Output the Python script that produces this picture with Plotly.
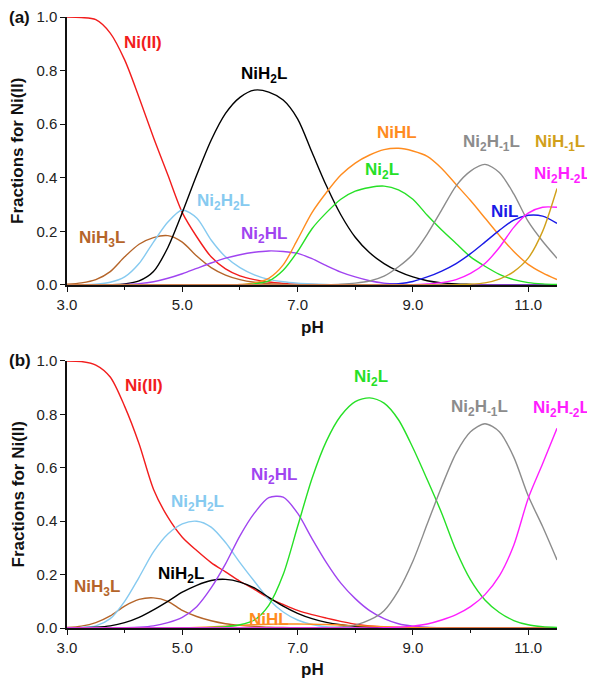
import plotly.graph_objects as go

# pH grid
ph = [3.0, 3.25, 3.5, 3.75, 4.0, 4.25, 4.5, 4.75, 5.0, 5.25, 5.5, 5.75, 6.0, 6.25, 6.5, 6.75,
      7.0, 7.25, 7.5, 7.75, 8.0, 8.25, 8.5, 8.75, 9.0, 9.25, 9.5, 9.75, 10.0, 10.25, 10.5,
      10.75, 11.0, 11.25, 11.5]

# ---- panel (a) ----
ni_a = [1.0, 0.998, 0.99, 0.94, 0.84, 0.70, 0.55, 0.41, 0.27, 0.18, 0.105, 0.06, 0.034, 0.02,
        0.011, 0.006, 0.003, 0.002, 0.001, 0, 0, 0, 0, 0, 0, 0, 0, 0, 0, 0, 0, 0, 0, 0, 0]
nih3l_a = [0.003, 0.008, 0.02, 0.05, 0.105, 0.152, 0.177, 0.184, 0.16, 0.108, 0.065, 0.037,
           0.02, 0.01, 0.005, 0.002, 0.001, 0, 0, 0, 0, 0, 0, 0, 0, 0, 0, 0, 0, 0, 0, 0, 0, 0, 0]
ni2h2l_a = [0, 0.001, 0.003, 0.01, 0.03, 0.08, 0.16, 0.235, 0.28, 0.25, 0.168, 0.105, 0.065,
            0.038, 0.021, 0.012, 0.007, 0.004, 0.002, 0, 0, 0, 0, 0, 0, 0, 0, 0, 0, 0, 0, 0, 0, 0, 0]
nih2l_a = [0, 0, 0, 0.001, 0.004, 0.015, 0.05, 0.14, 0.27, 0.41, 0.54, 0.64, 0.70, 0.727, 0.72,
           0.69, 0.62, 0.495, 0.37, 0.262, 0.178, 0.12, 0.08, 0.051, 0.03, 0.016, 0.008, 0.004,
           0.002, 0, 0, 0, 0, 0, 0]
ni2hl_a = [0, 0, 0, 0, 0.002, 0.005, 0.012, 0.025, 0.042, 0.062, 0.082, 0.1, 0.113, 0.122, 0.127,
           0.125, 0.118, 0.098, 0.072, 0.048, 0.03, 0.016, 0.007, 0.003, 0.001, 0, 0, 0, 0, 0, 0,
           0, 0, 0, 0]
nihl_a = [0, 0, 0, 0, 0, 0, 0, 0, 0, 0, 0, 0, 0.002, 0.008, 0.025, 0.075, 0.17, 0.27, 0.345, 0.41,
          0.455, 0.485, 0.505, 0.51, 0.5, 0.48, 0.435, 0.375, 0.315, 0.25, 0.185, 0.125, 0.077,
          0.045, 0.02]
ni2l_a = [0, 0, 0, 0, 0, 0, 0, 0, 0, 0, 0, 0, 0.001, 0.004, 0.015, 0.055, 0.125, 0.21, 0.27, 0.32,
          0.35, 0.364, 0.369, 0.355, 0.32, 0.26, 0.205, 0.155, 0.105, 0.07, 0.04, 0.02, 0.009,
          0.004, 0.002]
ni2h_1l_a = [0, 0, 0, 0, 0, 0, 0, 0, 0, 0, 0, 0, 0, 0, 0, 0, 0, 0, 0.001, 0.003, 0.007, 0.015,
             0.033, 0.068, 0.115, 0.19, 0.28, 0.37, 0.425, 0.45, 0.42, 0.34, 0.237, 0.163, 0.1]
nil_a = [0, 0, 0, 0, 0, 0, 0, 0, 0, 0, 0, 0, 0, 0, 0, 0, 0, 0, 0, 0, 0, 0, 0.002, 0.005, 0.013,
         0.03, 0.052, 0.08, 0.117, 0.16, 0.204, 0.242, 0.26, 0.257, 0.23]
ni2h_2l_a = [0, 0, 0, 0, 0, 0, 0, 0, 0, 0, 0, 0, 0, 0, 0, 0, 0, 0, 0, 0, 0, 0, 0, 0, 0.001,
             0.004, 0.009, 0.02, 0.043, 0.08, 0.14, 0.215, 0.268, 0.29, 0.29]
nih_1l_a = [0, 0, 0, 0, 0, 0, 0, 0, 0, 0, 0, 0, 0, 0, 0, 0, 0, 0, 0, 0, 0, 0, 0, 0, 0, 0, 0,
            0.001, 0.003, 0.008, 0.022, 0.05, 0.1, 0.2, 0.36]

# ---- panel (b) ----
ni_b = [1.0, 0.998, 0.985, 0.94, 0.83, 0.69, 0.52, 0.415, 0.34, 0.29, 0.245, 0.21, 0.175, 0.145,
        0.112, 0.088, 0.066, 0.05, 0.037, 0.025, 0.014, 0.008, 0.004, 0.002, 0.001, 0, 0, 0, 0,
        0, 0, 0, 0, 0, 0]
nih3l_b = [0.002, 0.007, 0.02, 0.045, 0.082, 0.107, 0.113, 0.1, 0.066, 0.043, 0.027, 0.016, 0.01,
           0.006, 0.003, 0.002, 0.001, 0, 0, 0, 0, 0, 0, 0, 0, 0, 0, 0, 0, 0, 0, 0, 0, 0, 0]
ni2h2l_b = [0, 0.002, 0.008, 0.035, 0.1, 0.19, 0.285, 0.352, 0.39, 0.40, 0.378, 0.32, 0.245,
            0.175, 0.108, 0.06, 0.03, 0.013, 0.005, 0.002, 0, 0, 0, 0, 0, 0, 0, 0, 0, 0, 0, 0, 0,
            0, 0]
nih2l_b = [0, 0.001, 0.003, 0.008, 0.02, 0.04, 0.068, 0.1, 0.134, 0.16, 0.178, 0.182, 0.172,
           0.15, 0.115, 0.082, 0.055, 0.035, 0.021, 0.012, 0.006, 0.003, 0.001, 0, 0, 0, 0, 0, 0,
           0, 0, 0, 0, 0, 0]
ni2hl_b = [0, 0, 0, 0, 0.001, 0.003, 0.008, 0.02, 0.04, 0.08, 0.15, 0.24, 0.345, 0.43, 0.488,
           0.49, 0.43, 0.335, 0.245, 0.168, 0.11, 0.065, 0.035, 0.016, 0.007, 0.003, 0.001, 0, 0,
           0, 0, 0, 0, 0, 0]
nihl_b = [0, 0, 0, 0, 0, 0, 0, 0, 0.001, 0.002, 0.004, 0.007, 0.01, 0.012, 0.014, 0.015, 0.015,
          0.014, 0.013, 0.011, 0.009, 0.007, 0.005, 0.003, 0.002, 0.001, 0, 0, 0, 0, 0, 0, 0, 0, 0]
ni2l_b = [0, 0, 0, 0, 0, 0, 0, 0, 0, 0, 0.002, 0.005, 0.012, 0.03, 0.085, 0.2, 0.38, 0.56, 0.70,
          0.795, 0.848, 0.862, 0.842, 0.78, 0.675, 0.555, 0.43, 0.29, 0.18, 0.105, 0.058, 0.028,
          0.012, 0.005, 0.002]
ni2h_1l_b = [0, 0, 0, 0, 0, 0, 0, 0, 0, 0, 0, 0, 0, 0, 0, 0, 0, 0, 0.001, 0.004, 0.011, 0.03,
             0.065, 0.14, 0.25, 0.39, 0.53, 0.655, 0.735, 0.765, 0.735, 0.64, 0.495, 0.38, 0.255]
ni2h_2l_b = [0, 0, 0, 0, 0, 0, 0, 0, 0, 0, 0, 0, 0, 0, 0, 0, 0, 0, 0, 0, 0, 0, 0.001, 0.003,
             0.007, 0.015, 0.03, 0.05, 0.08, 0.125, 0.195, 0.31, 0.485, 0.615, 0.748]

# colours
C = {
    "ni": "#f21d1d", "nih3l": "#b5652a", "nih2l": "#000000", "nihl": "#ff8c1f",
    "nil": "#1a1ae6", "nih_1l": "#d1a01a", "ni2h2l": "#86caf0", "ni2hl": "#a044f0",
    "ni2l": "#26e026", "ni2h_1l": "#8c8c8c", "ni2h_2l": "#ff1eff",
}

series_a = [("ni", ni_a), ("nih3l", nih3l_a), ("ni2h2l", ni2h2l_a), ("nih2l", nih2l_a),
            ("ni2hl", ni2hl_a), ("nihl", nihl_a), ("ni2l", ni2l_a), ("ni2h_1l", ni2h_1l_a),
            ("nil", nil_a), ("ni2h_2l", ni2h_2l_a), ("nih_1l", nih_1l_a)]
series_b = [("ni", ni_b), ("nih3l", nih3l_b), ("ni2h2l", ni2h2l_b), ("nih2l", nih2l_b),
            ("ni2hl", ni2hl_b), ("nihl", nihl_b), ("ni2l", ni2l_b), ("ni2h_1l", ni2h_1l_b),
            ("ni2h_2l", ni2h_2l_b)]

# labels inside the plot: (text, colour key, pH, fraction)
labels_a = [("Ni(II)", "ni", 4.32, 0.905), ("NiH<sub>2</sub>L", "nih2l", 6.41, 0.785),
            ("Ni<sub>2</sub>H<sub>2</sub>L", "ni2h2l", 5.71, 0.31), ("NiH<sub>3</sub>L", "nih3l", 3.6, 0.17),
            ("Ni<sub>2</sub>HL", "ni2hl", 6.41, 0.185), ("NiHL", "nihl", 8.73, 0.57),
            ("Ni<sub>2</sub>L", "ni2l", 8.47, 0.425), ("Ni<sub>2</sub>H<sub>-1</sub>L", "ni2h_1l", 10.36, 0.53),
            ("NiL", "nil", 10.59, 0.275)]
labels_b = [("Ni(II)", "ni", 4.33, 0.91), ("Ni<sub>2</sub>H<sub>2</sub>L", "ni2h2l", 5.26, 0.47),
            ("Ni<sub>2</sub>HL", "ni2hl", 6.59, 0.57), ("NiH<sub>2</sub>L", "nih2l", 4.97, 0.2),
            ("NiH<sub>3</sub>L", "nih3l", 3.52, 0.15), ("NiHL", "nihl", 6.5, 0.03),
            ("Ni<sub>2</sub>L", "ni2l", 8.27, 0.935), ("Ni<sub>2</sub>H<sub>-1</sub>L", "ni2h_1l", 10.15, 0.825)]
# labels past the right end of the axes (paper coordinates, right-aligned)
labels_edge = [("NiH<sub>-1</sub>L", "nih_1l", 1.0612, 0.7939),
               ("Ni<sub>2</sub>H<sub>-2</sub>L", "ni2h_2l", 1.0735, 0.7412),
               ("Ni<sub>2</sub>H<sub>-2</sub>L", "ni2h_2l", 1.0714, 0.3585)]

FONT = "Liberation Sans, Arial, sans-serif"
fig = go.Figure()
for key, vals in series_a:
    fig.add_trace(go.Scatter(x=ph, y=vals, mode="lines", xaxis="x", yaxis="y",
                             line=dict(color=C[key], width=1.4, shape="spline", smoothing=0.8),
                             cliponaxis=False, showlegend=False, hoverinfo="skip"))
for key, vals in series_b:
    fig.add_trace(go.Scatter(x=ph, y=vals, mode="lines", xaxis="x2", yaxis="y2",
                             line=dict(color=C[key], width=1.4, shape="spline", smoothing=0.8),
                             cliponaxis=False, showlegend=False, hoverinfo="skip"))

annotations = []
for labels, xr, yr, xa in ((labels_a, "x", "y", "center"), (labels_b, "x2", "y2", "center"),
                           (labels_edge, "paper", "paper", "right")):
    for txt, key, x, y in labels:
        annotations.append(dict(text="<b>" + txt + "</b>", x=x, y=y, xref=xr, yref=yr,
                                xanchor=xa, yanchor="middle", showarrow=False,
                                font=dict(color=C[key], size=17, family=FONT)))

TITLE_FONT = dict(size=17, family=FONT, color="#111")
# panel letters
annotations.append(dict(text="<b>(a)</b>", x=-0.096, y=1.0, xref="paper", yref="paper",
                        xanchor="center", yanchor="middle", showarrow=False, font=TITLE_FONT))
annotations.append(dict(text="<b>(b)</b>", x=-0.096, y=0.4386, xref="paper", yref="paper",
                        xanchor="center", yanchor="middle", showarrow=False, font=TITLE_FONT))
# axis titles
for yp in (0.491, -0.0687):
    annotations.append(dict(text="<b>pH</b>", x=0.5, y=yp, xref="paper", yref="paper",
                            xanchor="center", yanchor="middle", showarrow=False, font=TITLE_FONT))
for yp in (0.7807, 0.2185):
    annotations.append(dict(text="<b>Fractions for Ni(II)</b>", x=-0.1, y=yp, xref="paper",
                            yref="paper", xanchor="center", yanchor="middle", textangle=-90,
                            showarrow=False, font=TITLE_FONT))

xax = dict(range=[3, 11.5], tick0=3, dtick=2, tickformat=".1f", ticks="outside", ticklen=5,
           tickwidth=1.3, tickcolor="#111", showline=True, linecolor="#111", linewidth=1.5,
           showgrid=False, zeroline=False, automargin=False,
           tickfont=dict(size=15, family=FONT, color="#222"),
           minor=dict(dtick=1, tick0=3, ticks="outside", ticklen=3, tickcolor="#111", showgrid=False))
yax = dict(range=[0, 1.0], dtick=0.2, tickformat=".1f", ticks="outside", ticklen=5,
           tickwidth=1.3, tickcolor="#111", showline=True, linecolor="#111", linewidth=1.5,
           showgrid=False, zeroline=False, automargin=False,
           tickfont=dict(size=15, family=FONT, color="#222"))

# the page adds an 8px body margin, so the figure is sized to fit the window exactly
fig.update_layout(
    width=587, height=672, plot_bgcolor="white", paper_bgcolor="white",
    margin=dict(l=59, r=38, t=9, b=52, autoexpand=False),
    xaxis=dict(xax, domain=[0, 1], anchor="y"),
    yaxis=dict(yax, domain=[0.5614, 1.0], anchor="x"),
    xaxis2=dict(xax, domain=[0, 1], anchor="y2"),
    yaxis2=dict(yax, domain=[0.0, 0.437], anchor="x2"),
    annotations=annotations,
)

fig.write_html("out.html")
